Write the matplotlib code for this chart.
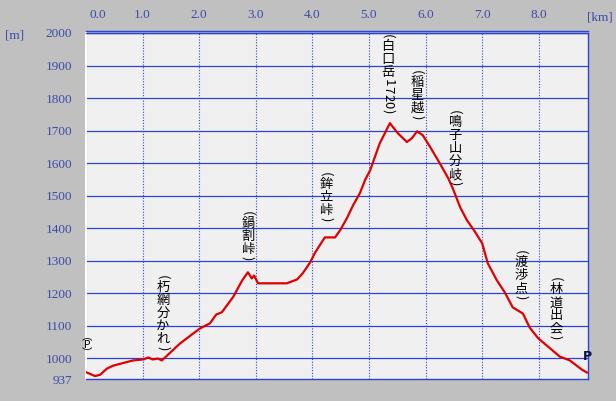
import numpy as np
import matplotlib
matplotlib.use('Agg')
import matplotlib.pyplot as plt
from matplotlib import transforms

# distance [km] / elevation [m]
dist_km = [0.00, 0.16, 0.25, 0.37, 0.48, 0.83, 1.01, 1.10, 1.18, 1.27, 1.34,
           1.66, 2.01, 2.19, 2.30, 2.40, 2.60, 2.76, 2.86, 2.93, 2.97, 3.04,
           3.55, 3.73, 3.83, 3.96, 4.05, 4.22, 4.40, 4.49, 4.61, 4.72, 4.84,
           4.93, 5.02, 5.19, 5.37, 5.51, 5.67, 5.76, 5.85, 5.95, 6.08, 6.25,
           6.40, 6.48, 6.61, 6.73, 6.87, 7.00, 7.10, 7.26, 7.40, 7.54, 7.72,
           7.84, 7.99, 8.14, 8.37, 8.55, 8.67, 8.76, 8.85]
elev_m = [958, 946, 950, 969, 978, 994, 997, 1003, 997, 1000, 994,
          1046, 1092, 1108, 1135, 1142, 1189, 1240, 1265, 1246, 1255, 1231,
          1231, 1243, 1262, 1295, 1326, 1372, 1372, 1394, 1431, 1471, 1508,
          1548, 1578, 1661, 1723, 1692, 1665, 1677, 1698, 1686, 1650, 1600,
          1554, 1523, 1465, 1425, 1390, 1354, 1292, 1240, 1203, 1157, 1138,
          1095, 1062, 1040, 1006, 994, 978, 966, 957]

y_ticks = [937, 1000, 1100, 1200, 1300, 1400, 1500, 1600, 1700, 1800, 1900, 2000]
x_ticks = [0, 1, 2, 3, 4, 5, 6, 7, 8]
x_labels = ['0.0', '1.0', '2.0', '3.0', '4.0', '5.0', '6.0', '7.0', '8.0']

# landmarks (vertical labels)
places = ['(朽網分かれ)', '(鍋割峠)', '(鉾立峠)', '(白口岳1720)', '(稲星越)',
          '(鳴子山分岐)', '(渡渉点)', '(林道出会)']
place_km = [1.36, 2.86, 4.24, 5.34, 5.85, 6.52, 7.69, 8.30]
place_top = [1258, 1452, 1572, 1997, 1886, 1763, 1332, 1249]

blue = '#2a44d4'
lab_blue = '#3c4aa8'

fig = plt.figure(figsize=(6.16, 4.01), dpi=100, facecolor='#c0c0c0')
ax = fig.add_axes([86/616, 22/401, 502/616, 346/401])
ax.set_facecolor('#f0f0f0')
ax.set_xlim(0, 8.87)
ax.set_ylim(937, 2000)

for y in y_ticks[1:]:
    ax.axhline(y, color=blue, lw=0.9, zorder=1)
for x in x_ticks:
    ax.axvline(x, color=blue, lw=0.8, ls=(0, (1, 1.5)), zorder=1)

ax.plot(dist_km, elev_m, color='#e00000', lw=1.6, zorder=3, solid_joinstyle='round')

for s in ['top', 'right', 'bottom']:
    ax.spines[s].set_color(blue)
    ax.spines[s].set_linewidth(1.0)
ax.spines['left'].set_color('white')
ax.spines['left'].set_linewidth(1.5)
ax.plot([0, 1], [1.006, 1.006], transform=ax.transAxes, color=blue, lw=1.0, clip_on=False)

ax.set_yticks(y_ticks)
ax.set_yticklabels([str(v) for v in y_ticks])
ax.set_xticks(x_ticks)
ax.set_xticklabels(x_labels)
ax.xaxis.tick_top()
ax.tick_params(length=0, labelcolor=lab_blue, labelsize=9.5)
ax.tick_params(axis='y', pad=10)
ax.tick_params(axis='x', pad=9)
for lab in ax.get_yticklabels() + ax.get_xticklabels():
    lab.set_family('Liberation Serif')
first = ax.get_xticklabels()[0]
first.set_transform(first.get_transform() + transforms.ScaledTranslation(12/100, 0, fig.dpi_scale_trans))

fig.text(15/616, 1 - 35/401, '[m]', color=lab_blue, family='Liberation Serif',
         fontsize=9.5, ha='center', va='center')
fig.text(600/616, 1 - 17/401, '[km]', color=lab_blue, family='Liberation Serif',
         fontsize=9.5, ha='center', va='center')


def vlabel(x, ytop, text, fs=9.5, pitch=13.0, paren=6.0):
    # stack characters downward; brackets and digits are turned sideways
    off = 0.0
    for ch in text:
        side = ch in '()0123456789'
        if ch in '()':
            adv = paren
        elif side:
            adv = 7.5
        else:
            adv = pitch
        ax.annotate(ch, xy=(x, ytop), xytext=(0, -off * 0.72), textcoords='offset points',
                    ha='center', va='top', rotation=-90 if side else 0,
                    fontsize=fs, family=['Noto Sans CJK JP', 'DejaVu Sans'],
                    color='black', zorder=4, annotation_clip=False)
        off += adv


for name, km, top in zip(places, place_km, place_top):
    vlabel(km, top, name)

# start marker (P) in vertical brackets, one text
ax.text(0.02, 1003, '︵\nP\n︶', fontsize=7.5, linespacing=0.7, ha='center', va='bottom',
        family=['Noto Sans CJK JP', 'DejaVu Sans'], color='black', zorder=4, clip_on=False)
ax.text(8.86, 986, 'P', color='#101040', fontsize=9, fontweight='bold',
        ha='center', va='bottom', family='DejaVu Sans', zorder=5, clip_on=False)

fig.savefig('out.png', dpi=100, facecolor=fig.get_facecolor())
